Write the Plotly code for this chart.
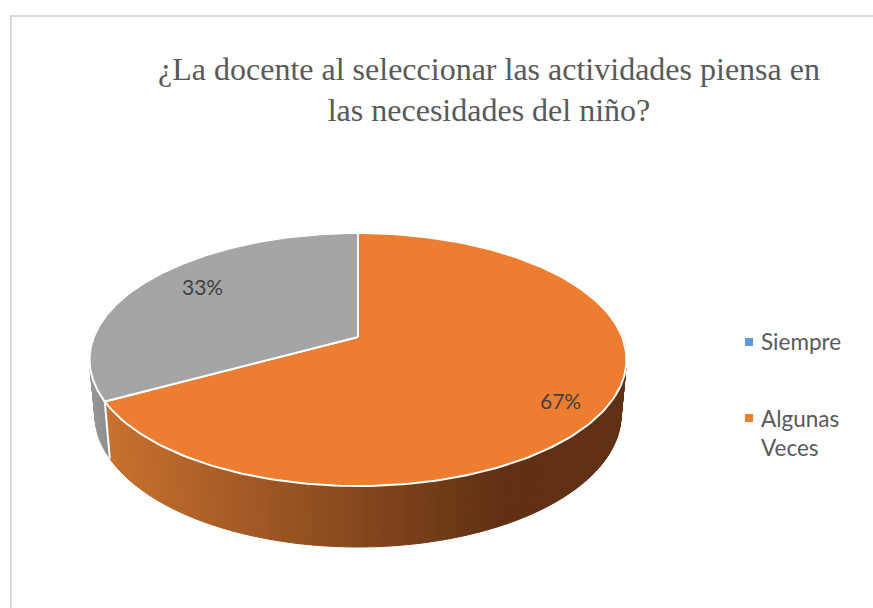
import numpy as np
import plotly.graph_objects as go

categories = ["Siempre", "Algunas Veces", "Otro"]
legend_labels = ["Siempre", "Algunas<br>Veces"]
values = [0, 67, 33]
percent_labels = ["", "67%", "33%"]
title_text = "¿La docente al seleccionar las actividades piensa en<br>las necesidades del niño?"
slice_colors = ["#5B9BD5", "#ED7D31", "#A5A5A5"]

W, H = 873, 608
CX, CY = 358.0, 337.0
C, A_Y, A_X = 0.178, -62.5, 264.2


def top(theta, f=1.0):
    u, v = np.sin(theta) * f, np.cos(theta) * f
    d = 1 + C * v
    return CX + A_X * u / d, (CY + A_Y * v) / d


def bottom(theta):
    x, y = top(theta)
    return CX + (x - CX) * 0.98, y + 57 + (y - 402) * 0.0476


def mix(a, b, t):
    t = min(max(t, 0.0), 1.0)
    return "rgb(%d,%d,%d)" % tuple(round(a[i] + (b[i] - a[i]) * t) for i in range(3))


fig = go.Figure()
edges = np.cumsum([0] + values) / sum(values) * 2 * np.pi

# Side wall, one thin strip per step along the rim
for i, col in enumerate(slice_colors):
    if values[i] == 0:
        continue
    n = max(int(values[i] * 3), 3)
    th = np.linspace(edges[i], edges[i + 1], n + 1)
    for a, b in zip(th[:-1], th[1:]):
        if np.cos((a + b) / 2) > 0.45:
            continue
        xa, ya = top(a)
        xb, yb = top(b)
        xc, yc = bottom(b)
        xd, yd = bottom(a)
        xm = (xa + xb) / 2
        if i == 1:
            shade = mix((200, 113, 46), (95, 48, 19), (xm - 105) / 400)
        else:
            shade = mix((150, 150, 150), (138, 138, 138), (xm - 90) / 20)
        fig.add_trace(go.Scatter(
            x=[xa, xb, xc, xd, xa], y=[ya, yb, yc, yd, ya], mode="lines",
            fill="toself", fillcolor=shade, line=dict(color=shade, width=1),
            hoverinfo="skip", showlegend=False))

# White seam on the wall between the slices
for e in edges[1:-1]:
    if values[0] == 0 and e == edges[1]:
        continue
    x0, y0 = top(e)
    x1, y1 = bottom(e)
    fig.add_trace(go.Scatter(x=[x0, x1], y=[y0, y1], mode="lines",
                             line=dict(color="white", width=2),
                             hoverinfo="skip", showlegend=False))

# Top faces
for i, col in enumerate(slice_colors):
    if values[i] == 0:
        continue
    th = np.linspace(edges[i], edges[i + 1], 200)
    xs, ys = top(th)
    fig.add_trace(go.Scatter(
        x=[CX] + list(xs) + [CX], y=[CY] + list(ys) + [CY], mode="lines",
        fill="toself", fillcolor=col, line=dict(color="white", width=2),
        name=categories[i], hoverinfo="name", showlegend=False))

# Legend keys and text
legend_marker_y = [342, 418]
legend_text_y = [341, 432.5]
for i, lab in enumerate(legend_labels):
    fig.add_trace(go.Scatter(x=[749], y=[legend_marker_y[i]], mode="markers", name=categories[i],
                             hoverinfo="name", showlegend=False,
                             marker=dict(symbol="square", size=8, color=slice_colors[i])))

annotations = [dict(x=759, y=legend_text_y[i], xref="x", yref="y", text=lab, showarrow=False,
                    xanchor="left", yanchor="middle", align="left",
                    font=dict(family="Lato", size=22.5, color="#595959"))
               for i, lab in enumerate(legend_labels)]

# Percent labels
label_radius = [0, 0.825, 0.73]
label_shift = [0, -8, 8]
for i, txt in enumerate(percent_labels):
    if not txt:
        continue
    lx, ly = top((edges[i] + edges[i + 1]) / 2, label_radius[i])
    annotations.append(dict(x=lx, y=ly, xref="x", yref="y", text=txt, showarrow=False,
                            yshift=label_shift[i],
                            font=dict(family="Lato", size=21, color="#404040")))

fig.update_layout(
    width=W, height=H, autosize=False,
    margin=dict(l=0, r=0, t=0, b=0),
    paper_bgcolor="white", plot_bgcolor="white",
    title=dict(text=title_text, x=489 / W, xanchor="center", y=1 - 79.5 / H, yanchor="top",
               font=dict(family="Liberation Serif", size=32, color="#595959")),
    xaxis=dict(range=[0, W], visible=False, fixedrange=True),
    yaxis=dict(range=[H, 0], visible=False, fixedrange=True),
    showlegend=False,
    annotations=annotations,
    shapes=[dict(type="path", path=f"M 11 {H} L 11 16 L {W} 16", xref="x", yref="y",
                 line=dict(color="#D9D9D9", width=2))],
)
fig.write_html("out.html", config={"displayModeBar": False},
               post_script="document.body.style.margin='0';document.documentElement.style.overflow='hidden';")
